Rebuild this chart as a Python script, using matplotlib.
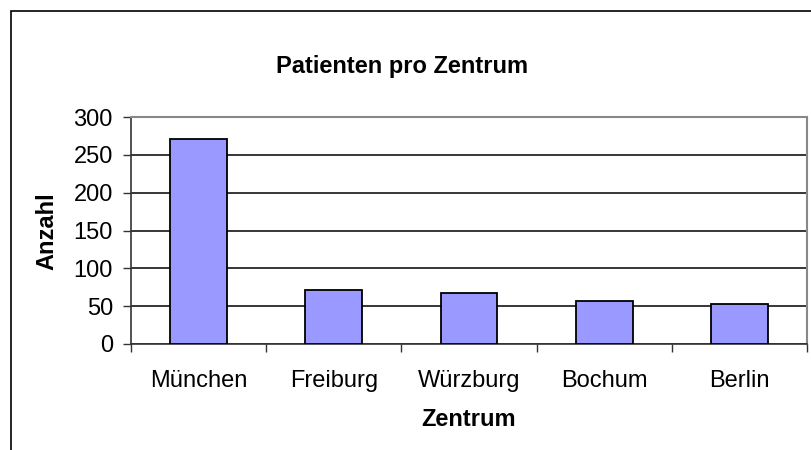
import matplotlib.pyplot as plt
from matplotlib.patches import Rectangle

# Daten
zentren = ['München', 'Freiburg', 'Würzburg', 'Bochum', 'Berlin']
anzahl = [271, 71, 67, 57, 53]
y_ticks = [0, 50, 100, 150, 200, 250, 300]

plt.rcParams['font.family'] = ['Liberation Sans', 'DejaVu Sans']

W, H = 811, 450
fig = plt.figure(figsize=(W / 100, H / 100), dpi=100)

# Rahmen um das ganze Diagramm (rechts und unten abgeschnitten)
fig.patches.append(Rectangle((10.5 / W, -0.1), 1.2, 1 - 11.5 / H + 0.1,
                             transform=fig.transFigure, fill=False,
                             edgecolor='black', linewidth=1.2))

ax = fig.add_axes([131 / W, 1 - 344 / H, (807 - 131) / W, (344 - 117) / H])

x = list(range(len(zentren)))
ax.bar(x, anzahl, width=0.42, color='#9999FF', edgecolor='black',
       linewidth=1.3, zorder=3)

ax.set_xlim(-0.5, len(zentren) - 0.5)
ax.set_ylim(0, 300)
ax.set_yticks(y_ticks)
ax.set_yticklabels([str(v) for v in y_ticks], fontsize=17)
ax.yaxis.grid(True, color='black', linewidth=1.1, zorder=0)

ax.set_xticks(x)
ax.set_xticklabels(zentren, fontsize=17)
ax.tick_params(axis='x', which='major', length=0, pad=19)
ax.set_xticks([i - 0.5 for i in range(len(zentren) + 1)], minor=True)
ax.tick_params(axis='x', which='minor', length=6, width=1, color='#333333')
ax.tick_params(axis='y', length=6, width=1, color='#333333', pad=7)

for s in ['top', 'right']:
    ax.spines[s].set_color('#888888')
    ax.spines[s].set_linewidth(1.5)
ax.spines['left'].set_color('#333333')
ax.spines['bottom'].set_color('#333333')
ax.spines['left'].set_linewidth(1.2)
ax.spines['bottom'].set_linewidth(1.2)

fig.text(402 / W, 1 - 66 / H, 'Patienten pro Zentrum', fontsize=17,
         fontweight='bold', ha='center', va='center')
fig.text(47 / W, 1 - 231 / H, 'Anzahl', fontsize=17, fontweight='bold',
         rotation=90, ha='center', va='center')
fig.text(469 / W, 1 - 420 / H, 'Zentrum', fontsize=17, fontweight='bold',
         ha='center', va='center')

fig.savefig('out.png', dpi=100)
